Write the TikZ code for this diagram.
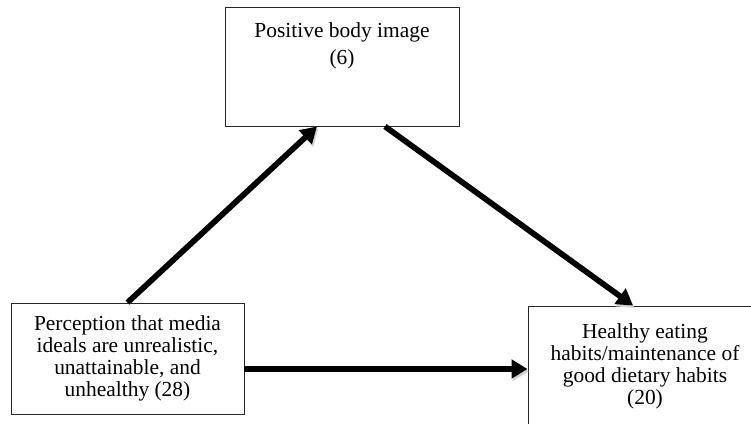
\documentclass[tikz,border=0pt]{standalone}
\usepackage{fontspec}
\setmainfont{Liberation Serif}
\usepackage{tikz}
\usetikzlibrary{positioning,arrows.meta}

\begin{document}
\begin{tikzpicture}
[
  box/.style={rectangle,draw=black!85,line width=0.8pt,align=center,font=\fontsize{18.3}{18.8}\selectfont},
  link/.style={line width=4.9pt,-{Triangle[length=0.48cm,width=0.55cm]},
    preaction={draw=black!18,transform canvas={shift={(0.04,-0.07)}}}},
]
\useasboundingbox (0,0) rectangle (22.53,12.69);
\clip (0,0) rectangle (22.53,12.69);
\node[box,minimum width=7.02cm,minimum height=3.57cm,
  label={[box,draw=none,anchor=north,yshift=-0.35cm,font=\fontsize{18.3}{23.4}\selectfont]north:Positive body image\\(6)}]
  (image) at (10.26,10.695) {};
\node[box,minimum width=6.99cm,minimum height=3.33cm] (media) at (3.825,1.935)
  {Perception that media\\ideals are unrealistic,\\unattainable, and\\unhealthy (28)};
\node[box,minimum width=7.02cm,minimum height=3.6cm] (eating) at (19.35,1.71)
  {Healthy eating\\habits/maintenance of\\good dietary habits\\(20)};
\draw[link] (media.north) -- ([xshift=-0.75cm]image.south);
\draw[link] ([xshift=1.29cm]image.south) -- ([xshift=-0.36cm]eating.north);
\draw[link] ([yshift=-0.315cm]media.east) -- ([yshift=-0.315cm]media.east -| eating.west);
\end{tikzpicture}
\end{document}
